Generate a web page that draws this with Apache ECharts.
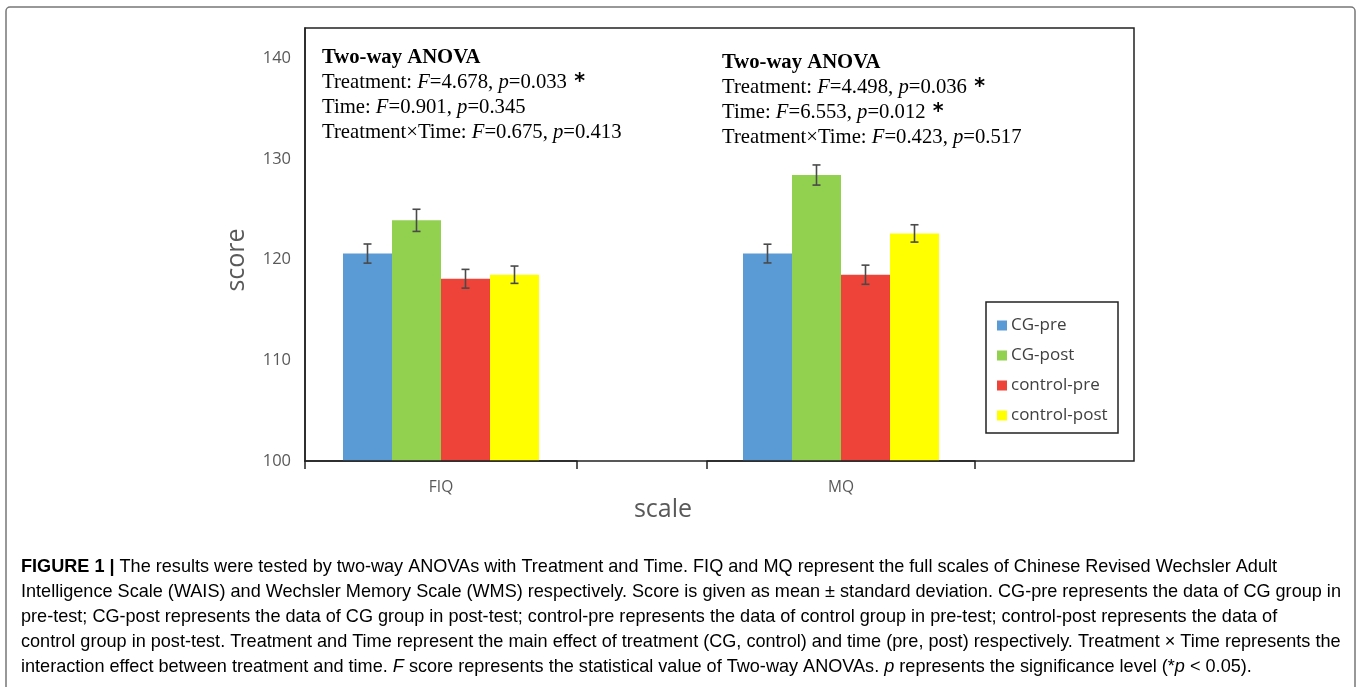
<!DOCTYPE html>
<html>
<head>
<meta charset="utf-8">
<script src="https://cdn.jsdelivr.net/npm/echarts@6/dist/echarts.min.js"></script>
<style>html,body{margin:0;padding:0;background:#fff;}#c{width:1357px;height:687px;}</style>
</head>
<body>
<div id="c"></div>
<script>
// ---- data ----
const categories = ['FIQ', 'MQ'];
const seriesNames = ['CG-pre', 'CG-post', 'control-pre', 'control-post'];
const cgPre = [120.6, 120.6];
const cgPost = [123.9, 128.4];
const controlPre = [118.1, 118.5];
const controlPost = [118.5, 122.6];
const cgPreSd = [0.95, 0.93];
const cgPostSd = [1.1, 1.0];
const controlPreSd = [0.93, 0.95];
const controlPostSd = [0.86, 0.86];
const yTicks = [100, 110, 120, 130, 140];
const anovaFIQ = ['Two-way ANOVA', ['Treatment', '4.678', '0.033', true], ['Time', '0.901', '0.345', false], ['Treatment×Time', '0.675', '0.413', false]];
const anovaMQ = ['Two-way ANOVA', ['Treatment', '4.498', '0.036', true], ['Time', '6.553', '0.012', true], ['Treatment×Time', '0.423', '0.517', false]];

const values = [cgPre, cgPost, controlPre, controlPost];
const sds = [cgPreSd, cgPostSd, controlPreSd, controlPostSd];
const colors = ['#5B9BD5', '#92D050', '#EE4338', '#FFFF00'];
const BW = 49;

const chart = echarts.init(document.getElementById('c'), null, {renderer: 'canvas'});

const grids = [
  {left: 305, width: 272, top: 28, height: 433},
  {left: 707, width: 268, top: 28, height: 433}
];
const xAxes = categories.map((c, i) => ({
  type: 'category', gridIndex: i, data: [c],
  axisLine: {show: true, lineStyle: {color: '#222', width: 1.5}},
  axisTick: {show: true, length: 8, lineStyle: {color: '#222', width: 1.5}},
  axisLabel: {color: '#595959', fontSize: 15.5, margin: 19, fontFamily: 'Open Sans'},
  splitLine: {show: false}
}));
const yAxes = categories.map((c, i) => ({
  type: 'value', gridIndex: i, min: yTicks[0], max: 143, interval: 10,
  show: i === 0,
  axisLine: {show: true, lineStyle: {color: '#222', width: 1.5}},
  axisTick: {show: false},
  splitLine: {show: false},
  axisLabel: {show: i === 0, color: '#595959', fontSize: 16.5, margin: 14, fontFamily: 'Open Sans', showMaxLabel: false,
    formatter: v => (yTicks.indexOf(v) >= 0 ? String(v) : '')}
}));

const series = [];
categories.forEach((c, i) => {
  seriesNames.forEach((n, s) => {
    series.push({
      type: 'bar', name: n, xAxisIndex: i, yAxisIndex: i,
      data: [values[s][i]], barWidth: BW, barGap: '0%',
      itemStyle: {color: colors[s]}, z: 2
    });
  });
  series.push({
    type: 'custom', xAxisIndex: i, yAxisIndex: i, z: 5, silent: true,
    data: seriesNames.map((n, s) => [0, values[s][i], sds[s][i], s]),
    renderItem: function (params, api) {
      const s = api.value(3);
      const v = api.value(1), e = api.value(2);
      const top = api.coord([0, v + e]);
      const bot = api.coord([0, v - e]);
      const x = top[0] + (s - 1.5) * BW;
      const cap = 4;
      const st = {stroke: '#4a4a4a', lineWidth: 1.6};
      return {type: 'group', children: [
        {type: 'line', shape: {x1: x, y1: top[1], x2: x, y2: bot[1]}, style: st},
        {type: 'line', shape: {x1: x - cap, y1: top[1], x2: x + cap, y2: top[1]}, style: st},
        {type: 'line', shape: {x1: x - cap, y1: bot[1], x2: x + cap, y2: bot[1]}, style: st}
      ]};
    }
  });
});

function anovaText(a) {
  const lines = ['{b|' + a[0] + '}'];
  for (let k = 1; k < a.length; k++) {
    const r = a[k];
    lines.push('{n|' + r[0] + ': }{i|F}{n|=' + r[1] + ', }{i|p}{n|=' + r[2] + '}' + (r[3] ? '{s| *}' : ''));
  }
  return lines.join('\n');
}
const AF = 20.7;
const richA = {
  b: {fontFamily: 'Liberation Serif', fontSize: AF, fontWeight: 'bold', color: '#111', lineHeight: 25},
  n: {fontFamily: 'Liberation Serif', fontSize: AF, color: '#111', lineHeight: 25},
  i: {fontFamily: 'Liberation Serif', fontSize: AF, fontStyle: 'italic', color: '#111', lineHeight: 25},
  s: {fontFamily: 'DejaVu Sans', fontSize: AF, fontWeight: 'bold', color: '#222', lineHeight: 25}
};

const capFont = {fontFamily: 'Liberation Sans', fontSize: 18.1, color: '#3a3a3a', lineHeight: 25};
const capRich = {
  n: capFont,
  b: Object.assign({}, capFont, {fontWeight: 'bold'}),
  i: Object.assign({}, capFont, {fontStyle: 'italic'})
};
const captionLines = [
  '{b|FIGURE 1 | }{n|The results were tested by two-way ANOVAs with Treatment and Time. FIQ and MQ represent the full scales of Chinese Revised Wechsler Adult}',
  '{n|Intelligence Scale (WAIS) and Wechsler Memory Scale (WMS) respectively. Score is given as mean ± standard deviation. CG-pre represents the data of CG group in}',
  '{n|pre-test; CG-post represents the data of CG group in post-test; control-pre represents the data of control group in pre-test; control-post represents the data of}',
  '{n|control group in post-test. Treatment and Time represent the main effect of treatment (CG, control) and time (pre, post) respectively. Treatment × Time represents the}',
  '{n|interaction effect between treatment and time. }{i|F}{n| score represents the statistical value of Two-way ANOVAs. }{i|p}{n| represents the significance level (*}{i|p}{n| < 0.05).}'
];

const graphics = [
  {type: 'rect', shape: {x: 6, y: 7, width: 1349, height: 700, r: 4}, style: {fill: 'none', stroke: '#777', lineWidth: 1.5}, silent: true},
  {type: 'rect', shape: {x: 305, y: 28, width: 829, height: 433}, style: {fill: 'none', stroke: '#222', lineWidth: 1.5}, z: 10, silent: true},
  {type: 'rect', shape: {x: 986, y: 302, width: 132, height: 131}, style: {fill: '#fff', stroke: '#222', lineWidth: 1.5}, z: 3, silent: true},
  {type: 'text', x: 322, y: 45, style: {text: anovaText(anovaFIQ), rich: richA, textVerticalAlign: 'top'}, z: 10},
  {type: 'text', x: 722, y: 50, style: {text: anovaText(anovaMQ), rich: richA, textVerticalAlign: 'top'}, z: 10},
  {type: 'text', x: 237, y: 260, rotation: Math.PI / 2, style: {text: 'score', fontFamily: 'Open Sans', fontSize: 25, fill: '#595959', align: 'center', verticalAlign: 'middle'}},
  {type: 'text', x: 663, y: 510, style: {text: 'scale', fontFamily: 'Open Sans', fontSize: 25, fill: '#595959', align: 'center', verticalAlign: 'middle'}}
];
captionLines.forEach((t, k) => {
  graphics.push({type: 'text', x: 21, y: 567 + k * 25, style: {text: t, rich: capRich, verticalAlign: 'middle'}});
});

chart.setOption({
  animation: false,
  backgroundColor: '#fff',
  grid: grids,
  xAxis: xAxes,
  yAxis: yAxes,
  legend: {
    data: seriesNames, orient: 'vertical', left: 992, top: 312,
    icon: 'rect', itemWidth: 10, itemHeight: 10, itemGap: 13, z: 12,
    textStyle: {color: '#404040', fontSize: 17, fontFamily: 'Open Sans', lineHeight: 17, padding: [0, 0, 0, -1]}
  },
  series: series,
  graphic: graphics
});
</script>
</body>
</html>
